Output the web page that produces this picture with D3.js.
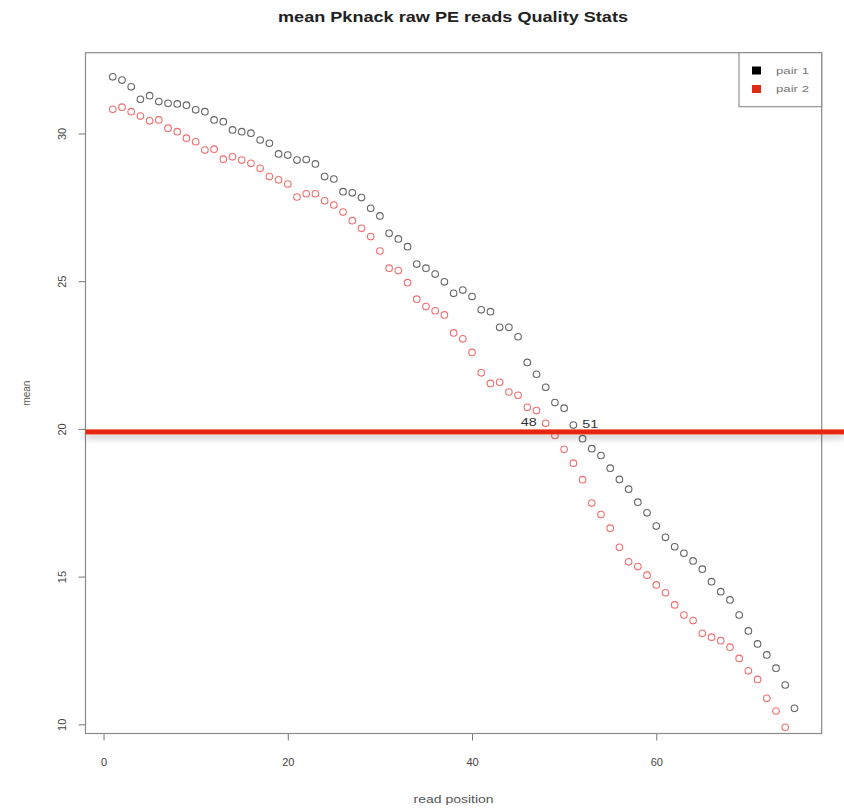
<!DOCTYPE html>
<html>
<head>
<meta charset="utf-8">
<script src="https://cdn.jsdelivr.net/npm/d3@7"></script>
<style>
  html, body { margin: 0; padding: 0; background: #fff; }
  svg { display: block; font-family: "Liberation Sans", Arial, Helvetica, sans-serif; }
</style>
</head>
<body>
<svg id="chart" width="844" height="808"></svg>
<script>
// ---- data ----
const pair1 = [31.92,31.81,31.58,31.16,31.28,31.08,31.02,31.00,30.96,30.80,
  30.74,30.46,30.40,30.12,30.06,30.01,29.78,29.67,29.31,29.27,
  29.10,29.12,28.97,28.54,28.46,28.03,27.99,27.83,27.47,27.21,
  26.62,26.43,26.17,25.58,25.44,25.24,24.98,24.59,24.70,24.48,
  24.03,23.97,23.44,23.44,23.12,22.25,21.85,21.41,20.89,20.70,
  20.13,19.67,19.33,19.10,18.67,18.29,17.96,17.52,17.16,16.71,
  16.33,16.01,15.79,15.53,15.25,14.83,14.49,14.21,13.70,13.16,
  12.72,12.35,11.90,11.33,10.54];
const pair2 = [30.82,30.89,30.74,30.59,30.43,30.46,30.18,30.06,29.84,29.72,
  29.44,29.47,29.13,29.21,29.10,28.99,28.82,28.54,28.43,28.29,
  27.85,27.96,27.96,27.72,27.58,27.34,27.05,26.79,26.51,26.02,
  25.44,25.36,24.95,24.39,24.14,24.00,23.86,23.25,23.05,22.59,
  21.90,21.54,21.58,21.25,21.14,20.73,20.62,20.19,19.78,19.31,
  18.84,18.28,17.49,17.10,16.64,15.99,15.50,15.34,15.05,14.72,
  14.45,14.04,13.70,13.51,13.08,12.95,12.83,12.61,12.23,11.81,
  11.52,10.88,10.45,9.90];
const seriesNames = ["pair 1", "pair 2"];
const xTicks = [0, 20, 40, 60];
const yTicks = [10, 15, 20, 25, 30];
const threshold = 20;
const lastAbove = [{series: 1, pos: 48}, {series: 0, pos: 51}];
const titleText = "mean Pknack raw PE reads Quality Stats";
const xLabel = "read position";
const yLabel = "mean";

// ---- layout ----
const svg = d3.select("#chart");
const plot = {left: 85.5, top: 52.7, right: 821.7, bottom: 733.5};
const x = d3.scaleLinear().domain([-1.96, 77.96]).range([plot.left, plot.right]);
const y = d3.scaleLinear().domain([9.689, 32.735]).range([plot.bottom, plot.top]);
const colors = ["#4a4a4a", "#ee4a4a"];
const legendFill = ["#000000", "#dd2a10"];

// title (the reference is stretched horizontally, so text is widened)
svg.append("text").attr("x", 453).attr("y", 22)
  .attr("text-anchor", "middle").attr("font-weight", "bold")
  .attr("font-size", 15).attr("fill", "#222")
  .attr("textLength", 350).attr("lengthAdjust", "spacingAndGlyphs").text(titleText);

// axes
const xAxis = svg.append("g").attr("transform", `translate(0,${plot.bottom})`)
  .call(d3.axisBottom(x).tickValues(xTicks).tickSize(7).tickPadding(18).tickFormat(d3.format("d")));
const yAxis = svg.append("g").attr("transform", `translate(${plot.left},0)`)
  .call(d3.axisLeft(y).tickValues(yTicks).tickSize(7).tickFormat(d3.format("d")));
[xAxis, yAxis].forEach(g => {
  g.select(".domain").remove();
  g.selectAll(".tick line").attr("stroke", "#777");
  g.selectAll(".tick text").attr("fill", "#444").attr("font-size", 11)
    .attr("font-family", "Liberation Sans, Arial, sans-serif");
});
yAxis.selectAll(".tick text")
  .attr("text-anchor", "middle").attr("x", null).attr("dy", null)
  .attr("transform", "translate(-23,0) rotate(-90)").attr("dy", "0.35em");

// axis lines (R style: from first to last tick)
svg.append("line").attr("x1", plot.left).attr("x2", plot.left)
  .attr("y1", y(yTicks[0])).attr("y2", y(yTicks[yTicks.length-1])).attr("stroke", "#777");
svg.append("line").attr("y1", plot.bottom).attr("y2", plot.bottom)
  .attr("x1", x(xTicks[0])).attr("x2", x(xTicks[xTicks.length-1])).attr("stroke", "#777");

// box
svg.append("rect").attr("x", plot.left).attr("y", plot.top)
  .attr("width", plot.right - plot.left).attr("height", plot.bottom - plot.top)
  .attr("fill", "none").attr("stroke", "#8a8a8a").attr("stroke-width", 1.2);

// axis labels
svg.append("text").attr("x", (plot.left + plot.right) / 2).attr("y", 803)
  .attr("text-anchor", "middle").attr("font-size", 11).attr("fill", "#555")
  .attr("textLength", 80).attr("lengthAdjust", "spacingAndGlyphs").text(xLabel);
svg.append("text").attr("transform", `translate(30,${(plot.top + plot.bottom) / 2}) rotate(-90)`)
  .attr("text-anchor", "middle").attr("font-size", 10).attr("fill", "#555").text(yLabel);

// points
[pair1, pair2].forEach((vals, si) => {
  svg.append("g").selectAll("circle").data(vals).join("circle")
    .attr("cx", (d, i) => x(i + 1)).attr("cy", d => y(d)).attr("r", 3.3)
    .attr("fill", "none").attr("stroke", colors[si]).attr("stroke-width", 1.1)
    .attr("opacity", si === 0 ? 0.85 : 0.8);
});

// position labels
const series = [pair1, pair2];
lastAbove.forEach(l => {
  const v = series[l.series][l.pos - 1];
  const left = l.series === 1;
  svg.append("text")
    .attr("x", x(l.pos) + (left ? -9 : 9))
    .attr("y", y(v) - 1).attr("dy", "0.35em")
    .attr("text-anchor", left ? "end" : "start")
    .attr("font-size", 11).attr("fill", "#333")
    .attr("textLength", 16).attr("lengthAdjust", "spacingAndGlyphs").text(l.pos);
});

// legend
const lg = svg.append("g");
lg.append("rect").attr("x", 739).attr("y", plot.top).attr("width", plot.right - 739).attr("height", 54)
  .attr("fill", "#fff").attr("stroke", "#8a8a8a").attr("stroke-width", 1.1);
seriesNames.forEach((n, i) => {
  lg.append("rect").attr("x", 752).attr("y", 66.5 + i * 18.5).attr("width", 9).attr("height", 8)
    .attr("fill", legendFill[i]);
  lg.append("text").attr("x", 776).attr("y", 70.5 + i * 18.5).attr("dy", "0.35em")
    .attr("font-size", 9).attr("fill", "#777")
    .attr("textLength", 33).attr("lengthAdjust", "spacingAndGlyphs").text(n);
});

// threshold annotation line with soft shadow
const defs = svg.append("defs");
const f = defs.append("filter").attr("id", "shadow").attr("filterUnits", "userSpaceOnUse")
  .attr("x", 0).attr("y", 380).attr("width", 844).attr("height", 110);
f.append("feDropShadow").attr("dx", 0).attr("dy", 4).attr("stdDeviation", 3)
  .attr("flood-color", "#000").attr("flood-opacity", 0.22);
svg.append("rect").attr("x", plot.left).attr("width", 844 - plot.left)
  .attr("y", y(threshold) + 0.5).attr("height", 5)
  .attr("fill", "#e8260f").attr("filter", "url(#shadow)");
</script>
</body>
</html>
